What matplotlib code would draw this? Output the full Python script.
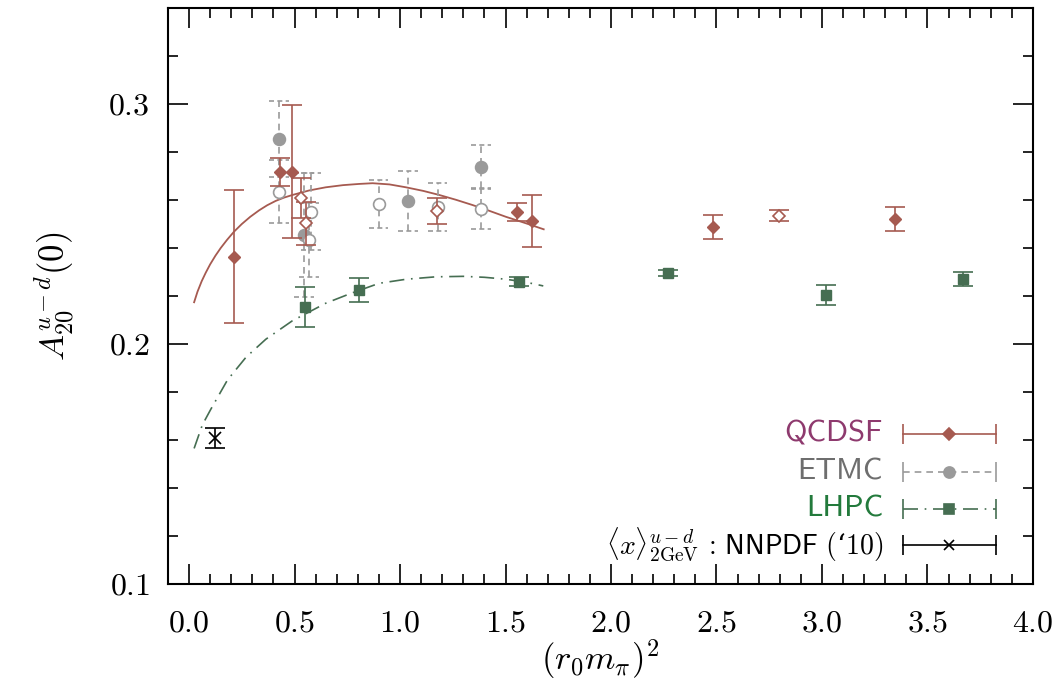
import numpy as np
import matplotlib
matplotlib.use('Agg')
import matplotlib.pyplot as plt
from matplotlib.ticker import MultipleLocator, FuncFormatter

plt.rcParams['mathtext.fontset'] = 'cm'
plt.rcParams['font.family'] = ['cmr10', 'DejaVu Serif']
plt.rcParams['axes.formatter.use_mathtext'] = True

# QCDSF (filled / open diamonds)
qcdsf_x = [0.213, 0.432, 0.490, 1.553, 1.624, 2.484, 3.346]
qcdsf_y = [0.2364, 0.2718, 0.2718, 0.2549, 0.2513, 0.2489, 0.2521]
qcdsf_e = [0.0277, 0.0058, 0.0276, 0.0038, 0.0107, 0.0050, 0.0051]
qcdsf_open_x = [0.530, 0.556, 1.173, 2.796]
qcdsf_open_y = [0.2607, 0.2503, 0.2554, 0.2535]
qcdsf_open_e = [0.0084, 0.0090, 0.0055, 0.0022]

# ETMC (filled / open circles)
etmc_x = [0.427, 0.546, 1.039, 1.384]
etmc_y = [0.2854, 0.2454, 0.2596, 0.2739]
etmc_e = [0.0160, 0.0257, 0.0126, 0.0090]
etmc_open_x = [0.427, 0.577, 0.569, 0.898, 1.178, 1.384]
etmc_open_y = [0.2635, 0.2551, 0.2433, 0.2582, 0.2572, 0.2561]
etmc_open_e = [0.0132, 0.0160, 0.0153, 0.0100, 0.0100, 0.0083]

# LHPC (squares)
lhpc_x = [0.549, 0.806, 1.565, 2.271, 3.017, 3.667]
lhpc_y = [0.2155, 0.2225, 0.2260, 0.2297, 0.2205, 0.2271]
lhpc_e = [0.0083, 0.0052, 0.0019, 0.0013, 0.0041, 0.0029]

# NNPDF
nnpdf_x = [0.122]
nnpdf_y = [0.161]
nnpdf_e = [0.0042]

# fit curves
fit_q_x = [0.024, 0.040, 0.060, 0.079, 0.100, 0.125, 0.150, 0.180, 0.213, 0.250, 0.290, 0.332, 0.370,
           0.410, 0.450, 0.490, 0.570, 0.648, 0.730, 0.806, 0.870, 0.950, 1.028, 1.110, 1.186, 1.265,
           1.344, 1.420, 1.502, 1.590, 1.681]
fit_q_y = [0.2174, 0.2218, 0.2262, 0.2297, 0.2332, 0.2368, 0.2400, 0.2434, 0.2468, 0.2500, 0.2530,
           0.2557, 0.2578, 0.2596, 0.2610, 0.2621, 0.2640, 0.2653, 0.2662, 0.2667, 0.2670, 0.2665,
           0.2653, 0.2638, 0.2621, 0.2601, 0.2579, 0.2556, 0.2530, 0.2505, 0.2478]
fit_l_x = [0.024, 0.063, 0.103, 0.182, 0.270, 0.364, 0.490, 0.648, 0.767, 0.901, 1.030, 1.170,
           1.300, 1.400, 1.502, 1.600, 1.679]
fit_l_y = [0.1565, 0.1663, 0.1728, 0.1850, 0.1945, 0.2020, 0.2097, 0.2170, 0.2211, 0.2253, 0.2270, 0.2280,
           0.2282, 0.2278, 0.2270, 0.2257, 0.2242]

red = '#a65a50'
grey = '#9a9a9a'
green = '#466e52'

fig = plt.figure(figsize=(10.59, 6.97), dpi=100)
ax = fig.add_axes([0.1586, 0.1621, 0.8168, 0.8264])

# fits
ax.plot(fit_q_x, fit_q_y, color=red, lw=1.3, zorder=2)
ax.plot(fit_l_x, fit_l_y, color=green, lw=1.2, ls=(0, (9, 4, 1, 4)), zorder=2)

# ETMC with dashed bars and dashed caps
capw = 0.047
dash = (0, (4, 3))
for xs, ys, es, mfc in [(etmc_x, etmc_y, etmc_e, grey), (etmc_open_x, etmc_open_y, etmc_open_e, 'white')]:
    eb = ax.errorbar(xs, ys, yerr=es, fmt='o', ms=8.5, color=grey, mfc=mfc, mec=grey, mew=1.2,
                     elinewidth=1.2, capsize=0, zorder=3)
    eb[2][0].set_linestyle(dash)
    xs_a, ys_a, es_a = np.array(xs), np.array(ys), np.array(es)
    for yy in (ys_a - es_a, ys_a + es_a):
        ax.hlines(yy, xs_a - capw, xs_a + capw, colors=grey, lw=1.2, linestyles=(0, (3, 2)), zorder=3)

# QCDSF
ax.errorbar(qcdsf_x, qcdsf_y, yerr=qcdsf_e, fmt='D', ms=6.5, color=red, mec=red,
            elinewidth=1.2, capsize=7.2, capthick=1.2, zorder=4)
ax.errorbar(qcdsf_open_x, qcdsf_open_y, yerr=qcdsf_open_e, fmt='D', ms=6.5, color=red, mfc='white',
            mec=red, mew=1.2, elinewidth=1.2, capsize=7.2, capthick=1.2, zorder=4)

# LHPC
ax.errorbar(lhpc_x, lhpc_y, yerr=lhpc_e, fmt='s', ms=7, color=green, mec=green,
            elinewidth=1.2, capsize=7.2, capthick=1.2, zorder=4)

# NNPDF
ax.errorbar(nnpdf_x, nnpdf_y, yerr=nnpdf_e, fmt='x', ms=8, color='black', mew=1.2,
            elinewidth=1.2, capsize=7.2, capthick=1.2, zorder=4)

ax.set_xlim(-0.1, 4.0)
ax.set_ylim(0.1, 0.34)
ax.xaxis.set_major_locator(MultipleLocator(0.5))
ax.xaxis.set_minor_locator(MultipleLocator(0.1))
ax.yaxis.set_major_locator(MultipleLocator(0.1))
ax.yaxis.set_minor_locator(MultipleLocator(0.02))
ax.xaxis.set_major_formatter(FuncFormatter(lambda v, p: r'$%.1f$' % v))
ax.yaxis.set_major_formatter(FuncFormatter(lambda v, p: r'$%.1f$' % v))
ax.tick_params(which='both', direction='in', top=True, right=True, width=1.2, labelsize=23)
ax.tick_params(which='major', length=14.4)
ax.tick_params(which='minor', length=7.2)
ax.tick_params(axis='x', which='major', pad=19)
ax.tick_params(axis='y', which='major', pad=13)
for s in ax.spines.values():
    s.set_linewidth(1.5)

ax.set_xlabel(r'$(r_0 m_\pi)^2$', fontsize=25, labelpad=0)
ax.set_ylabel(r'$A_{20}^{u-d}(0)$', fontsize=25, labelpad=23)

# hand-made legend: label | line with end caps and marker
leg_labels = ['QCDSF', 'ETMC', 'LHPC',
              r'$\langle x\rangle^{u-d}_{2\mathrm{GeV}}\,:\,\mathsf{NNPDF}\ ($‘$10)$']
leg_colors = ['#8e3a6e', '#6e6e6e', '#237a3c', 'black']
leg_fs = [22, 22, 22, 20]
leg_lcol = [red, grey, green, 'black']
leg_ls = ['-', (0, (4, 3)), (0, (9, 4, 1, 4)), '-']
leg_mk = ['D', 'o', 's', 'x']
leg_ms = [6.5, 8, 7, 7]
leg_y = [0.260, 0.195, 0.131, 0.068]
x0, x1, xm, xt = 0.8494, 0.9572, 0.903, 0.8266
for lab, tc, fs, lc, ls, mk, ms, yy in zip(leg_labels, leg_colors, leg_fs, leg_lcol, leg_ls,
                                           leg_mk, leg_ms, leg_y):
    fam = ['DejaVu Serif'] if lab.startswith('$') else ['cmss10', 'DejaVu Sans']
    ax.text(xt, yy, lab, transform=ax.transAxes, ha='right', va='center', fontsize=fs,
            color=tc, family=fam)
    ax.plot([x0, x1], [yy, yy], transform=ax.transAxes, color=lc, ls=ls, lw=1.2)
    ax.plot([x0, x1], [yy, yy], transform=ax.transAxes, color=lc, ls='none', marker='|', ms=14, mew=1.2)
    ax.plot([xm], [yy], transform=ax.transAxes, color=lc, marker=mk, ms=ms, mew=1.2, ls='none')

fig.savefig('out.png', dpi=100)
